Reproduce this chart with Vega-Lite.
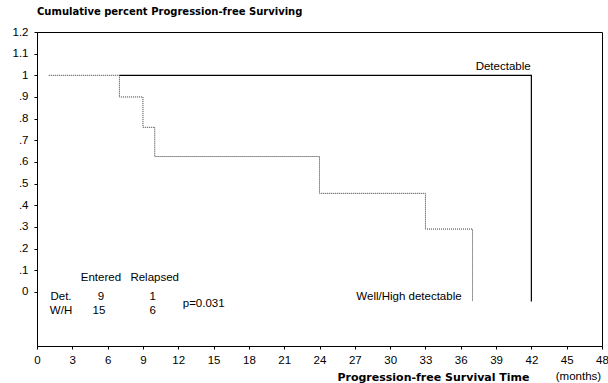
{
  "$schema": "https://vega.github.io/schema/vega-lite/v6.json",
  "width": 565,
  "height": 314,
  "autosize": {"type": "none"},
  "padding": {"left": 37, "top": 32, "right": 6, "bottom": 37},
  "background": "white",
  "title": {
    "text": "Cumulative percent Progression-free Surviving",
    "anchor": "start",
    "frame": "group",
    "font": "DejaVu Sans",
    "fontSize": 10,
    "fontWeight": "bold",
    "color": "black",
    "offset": 9
  },
  "config": {
    "view": {"stroke": "black"},
    "axis": {
      "domainColor": "black",
      "tickColor": "black",
      "labelColor": "black",
      "labelFont": "Liberation Sans",
      "labelFontSize": 11.5,
      "titleColor": "black",
      "titleFont": "DejaVu Sans",
      "titleFontSize": 11,
      "titleFontWeight": "bold",
      "gridOpacity": 0
    },
    "text": {"font": "Liberation Sans", "fontSize": 11.5, "color": "black"}
  },
  "datasets": {
    "curves": [
      {"group": "W/H", "month": 1, "surv": 1},
      {"group": "W/H", "month": 7, "surv": 0.9},
      {"group": "W/H", "month": 9, "surv": 0.76},
      {"group": "W/H", "month": 10, "surv": 0.625},
      {"group": "W/H", "month": 24, "surv": 0.455},
      {"group": "W/H", "month": 33, "surv": 0.29},
      {"group": "W/H", "month": 37, "surv": -0.045},
      {"group": "Det.", "month": 7, "surv": 1},
      {"group": "Det.", "month": 42, "surv": -0.045}
    ],
    "notes": [
      {"label": "Entered", "month": 5.43, "surv": 0.063},
      {"label": "Relapsed", "month": 10.0, "surv": 0.063},
      {"label": "Det.", "month": 2.04, "surv": -0.026},
      {"label": "9", "month": 5.43, "surv": -0.026},
      {"label": "1", "month": 9.84, "surv": -0.026},
      {"label": "W/H", "month": 2.04, "surv": -0.09},
      {"label": "15", "month": 5.26, "surv": -0.09},
      {"label": "6", "month": 9.84, "surv": -0.09},
      {"label": "p=0.031", "month": 14.16, "surv": -0.054},
      {"label": "Detectable", "month": 39.6, "surv": 1.04},
      {"label": "Well/High detectable", "month": 31.6, "surv": -0.025},
      {"label": "(months)", "month": 46.0, "surv": -0.394}
    ]
  },
  "layer": [
    {
      "data": {"name": "curves"},
      "transform": [{"filter": "datum.group == 'W/H'"}],
      "mark": {"type": "line", "interpolate": "step-after", "stroke": "#333333", "strokeWidth": 1, "strokeDash": [1, 1], "clip": false},
      "encoding": {
        "x": {
          "field": "month", "type": "quantitative",
          "scale": {"domain": [0, 48], "nice": false, "zero": false},
          "axis": {
            "orient": "bottom",
            "values": [0,3,6,9,12,15,18,21,24,27,30,33,36,39,42,45,48],
            "ticks": true,
            "tickSize": 3,
            "labelPadding": 5,
            "labelOverlap": false,
            "labelFlush": false,
            "title": "Progression-free Survival Time",
            "titleAnchor": null,
            "titleX": 396,
            "titleY": 31,
            "titleAlign": "center",
            "titleBaseline": "middle"
          }
        },
        "y": {
          "field": "surv", "type": "quantitative",
          "scale": {"domain": [-0.25, 1.2], "nice": false, "zero": false},
          "axis": {
            "orient": "left",
            "values": [0,0.1,0.2,0.3,0.4,0.5,0.6,0.7,0.8,0.9,1,1.1,1.2],
            "ticks": true,
            "tickSize": 3,
            "labelExpr": "datum.value < 0.001 ? '0' : (datum.value >= 0.999 ? format(datum.value, '.1~f') : slice(format(datum.value, '.1f'), 1))",
            "labelPadding": 6,
            "labelOverlap": false,
            "labelFlush": false,
            "title": null
          }
        }
      }
    },
    {
      "data": {"name": "curves"},
      "transform": [{"filter": "datum.group == 'Det.'"}],
      "mark": {"type": "line", "interpolate": "step-after", "stroke": "black", "strokeWidth": 1.2, "clip": false},
      "encoding": {
        "x": {"field": "month", "type": "quantitative", "axis": null},
        "y": {"field": "surv", "type": "quantitative", "axis": null}
      }
    },
    {
      "data": {"name": "notes"},
      "mark": {"type": "text", "align": "center", "baseline": "middle"},
      "encoding": {
        "x": {"field": "month", "type": "quantitative", "axis": null},
        "y": {"field": "surv", "type": "quantitative", "axis": null},
        "text": {"field": "label"}
      }
    }
  ],
  "resolve": {"axis": {"x": "independent", "y": "independent"}}
}
